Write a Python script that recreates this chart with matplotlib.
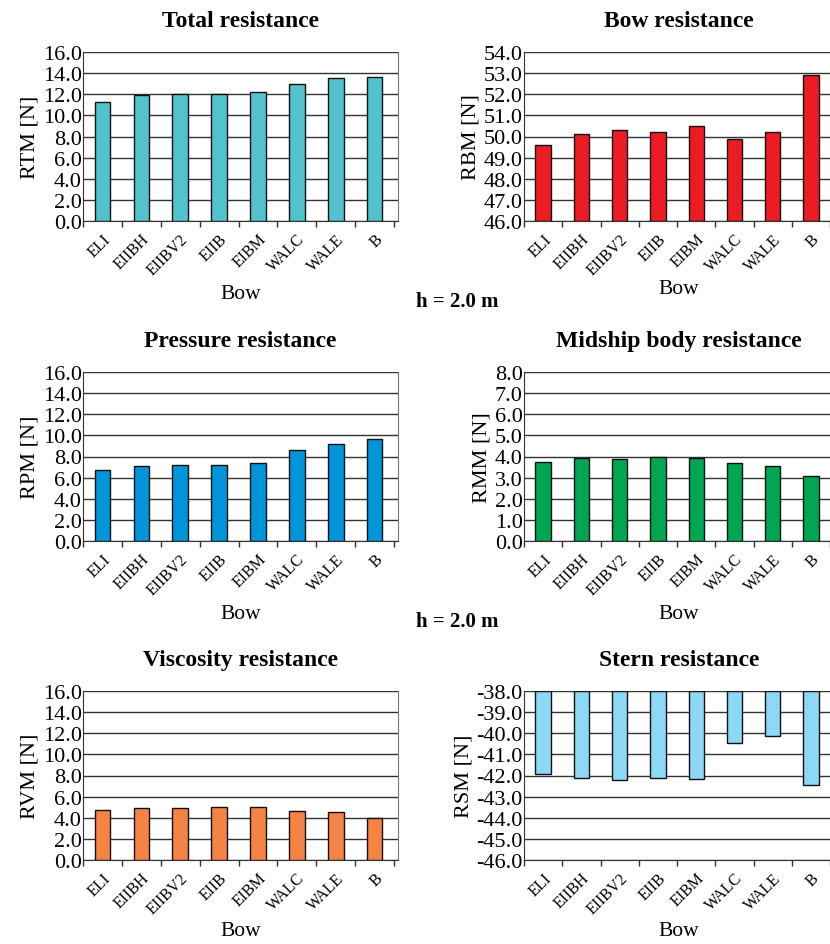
import numpy as np
import matplotlib
matplotlib.use('Agg')
import matplotlib.pyplot as plt

plt.rcParams['font.family'] = ['Liberation Serif', 'DejaVu Serif']

# Bow variants (categories)
bows = ['ELI', 'EIIBH', 'EIIBV2', 'EIIB', 'EIBM', 'WALC', 'WALE', 'B']

# Values [N]
rtm = [11.3, 11.9, 12.0, 12.0, 12.2, 13.0, 13.5, 13.6]
rbm = [49.6, 50.1, 50.3, 50.2, 50.5, 49.9, 50.2, 52.9]
rpm = [6.75, 7.1, 7.2, 7.2, 7.4, 8.6, 9.15, 9.7]
rmm = [3.75, 3.95, 3.9, 3.97, 3.95, 3.7, 3.55, 3.1]
rvm = [4.75, 4.9, 4.9, 5.0, 5.0, 4.6, 4.55, 4.0]
rsm = [-41.95, -42.1, -42.2, -42.1, -42.15, -40.45, -40.15, -42.45]

W, H = 830, 945
fig = plt.figure(figsize=(W / 100, H / 100), dpi=100)


def px_axes(left, top, right, bottom):
    return fig.add_axes([left / W, 1 - bottom / H, (right - left) / W, (bottom - top) / H])


panels = [
    # title, ylabel, data, color, ymin, ymax, step, base, box, xlabel offset (px)
    ('Total resistance', 'RTM [N]', rtm, '#52C3CC', 0, 16, 2, 0, (83, 53, 398, 222), 73),
    ('Bow resistance', 'RBM [N]', rbm, '#ED1C24', 46, 54, 1, 46, (524, 53, 834, 222), 68),
    ('Pressure resistance', 'RPM [N]', rpm, '#0095D9', 0, 16, 2, 0, (83, 373, 398, 542), 73),
    ('Midship body resistance', 'RMM [N]', rmm, '#00A651', 0, 8, 1, 0, (524, 373, 834, 542), 73),
    ('Viscosity resistance', 'RVM [N]', rvm, '#F58345', 0, 16, 2, 0, (83, 692, 398, 861), 71),
    ('Stern resistance', 'RSM [N]', rsm, '#8DD8F5', -46, -38, 1, -38, (524, 692, 834, 861), 71),
]

x = np.arange(len(bows))
for title, ylab, vals, col, ymin, ymax, step, base, box, xoff in panels:
    ax = px_axes(*box[:4])
    vals = np.array(vals)
    ax.bar(x, vals - base, bottom=base, width=0.4, color=col,
           edgecolor='#111111', linewidth=1.0, zorder=3)
    ax.set_xlim(-0.5, 7.6)
    ax.set_ylim(ymin, ymax)
    ax.set_yticks(np.arange(ymin, ymax + step / 2, step))
    ax.yaxis.set_major_formatter(plt.FuncFormatter(lambda v, _: f'{v:.1f}'))
    ax.tick_params(axis='y', length=0, pad=1, labelsize=16)
    ax.set_xticks(x)
    ax.set_xticklabels(bows, rotation=45, ha='right', rotation_mode='anchor', fontsize=11.5)
    ax.tick_params(axis='x', length=0, pad=7)
    ax.set_xticks(np.arange(-0.5, 7.6, 1), minor=True)
    ax.tick_params(axis='x', which='minor', length=4, width=1, color='#333333')
    ax.grid(True, axis='y', color='#333333', linewidth=1.0, zorder=0)
    ax.spines['top'].set_visible(False)
    ax.spines['right'].set_color('#777777')
    ax.spines['left'].set_color('#333333')
    ax.spines['bottom'].set_color('#333333')
    ax.set_title(title, fontsize=17, fontweight='bold', pad=19)
    ax.set_ylabel(ylab, fontsize=16, labelpad=2)
    ax.set_xlabel('Bow', fontsize=15.5, va='center')
    # x label centre a fixed number of pixels below the axes
    ax.xaxis.set_label_coords(0.5, -xoff / (box[3] - box[1]))

fig.text(457 / W, 1 - 302 / H, 'h = 2.0 m', ha='center', va='center',
         fontsize=15, fontweight='bold')
fig.text(457 / W, 1 - 622 / H, 'h = 2.0 m', ha='center', va='center',
         fontsize=15, fontweight='bold')

fig.savefig('out.png', dpi=100)
